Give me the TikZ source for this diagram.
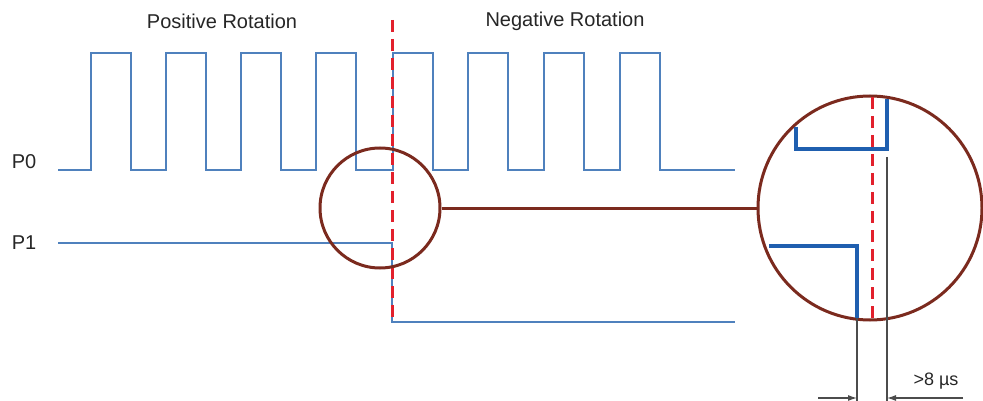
\documentclass[tikz,border=0pt]{standalone}
\usepackage{fontspec}
\setmainfont{Liberation Sans}
\usetikzlibrary{arrows.meta}

\definecolor{sigblue}{HTML}{4F81BD}
\definecolor{deepblue}{HTML}{1F5FAF}
\definecolor{lensbrown}{HTML}{7B2A1E}
\definecolor{cutred}{HTML}{E2202C}

\tikzset{
    signal/.style={draw=sigblue, line width=1.5pt},
    zoomsignal/.style={draw=deepblue, line width=3.6pt},
    lens/.style={circle, draw=lensbrown, line width=3pt, inner sep=0pt},
    cut/.style={draw=cutred, line width=3pt, dash pattern=on 12pt off 7pt},
    guide/.style={draw=black!70, line width=1.1pt},
    label/.style={font=\fontsize{20}{24}\selectfont, text=black!85}
}

\begin{document}
\begin{tikzpicture}[x=1pt, y=-1pt]
    \useasboundingbox (0,0) rectangle (983,401);

    %titles and channel names
        \node[label] (pos) at (222,21) {Positive Rotation};
        \node[label] (neg) at (565,21) {Negative Rotation};
        \node[label] (p0) at (24,162) {P0};
        \node[label] (p1) at (24,243) {P1};

    %channel P0 pulse train
        \draw[signal] (58,170)
            \foreach \r in {91,166,241,316,393,468,544,620} {
                -- (\r,170) -- (\r,53) -- ({\r+40},53) -- ({\r+40},170)
            } -- (735,170);

    %channel P1 step
        \coordinate (S) at (392,243);
        \coordinate (T) at (392,322);
        \draw[signal] (58,243) -- (S) -- (T) -- (735,322);

    %direction change
        \draw[cut] (392,20) -- (392,324);

    %magnifier circles
        \node[lens, minimum size=120pt] (small) at (380,208) {};
        \node[lens, minimum size=224pt] (big) at (870,208) {};
        \draw[lensbrown, line width=3pt] (small.east) -- (big.west);

    %magnified edges
        \coordinate (A) at (857,246);
        \coordinate (B) at (887,149);
        \draw[zoomsignal] (769,246) -- (A) -- (857,318);
        \draw[zoomsignal] (796,127) -- (796,149) -- (B) -- (887,99);
        \draw[cut] (872,97) -- (872,320);

    %delay measurement
        \coordinate (L) at (857,398);
        \coordinate (R) at (887,398);
        \draw[guide] (857,318) -- (857,401);
        \draw[guide] (887,157) -- (887,401);
        \draw[guide, -{Latex[length=9pt, width=6pt]}] (818,398) -- (L);
        \draw[guide, -{Latex[length=9pt, width=6pt]}] (963,398) -- (R);
        \node[font=\fontsize{18}{21}\selectfont, text=black!85] (gap) at (936,381) {>8 µs};

\end{tikzpicture}
\end{document}
